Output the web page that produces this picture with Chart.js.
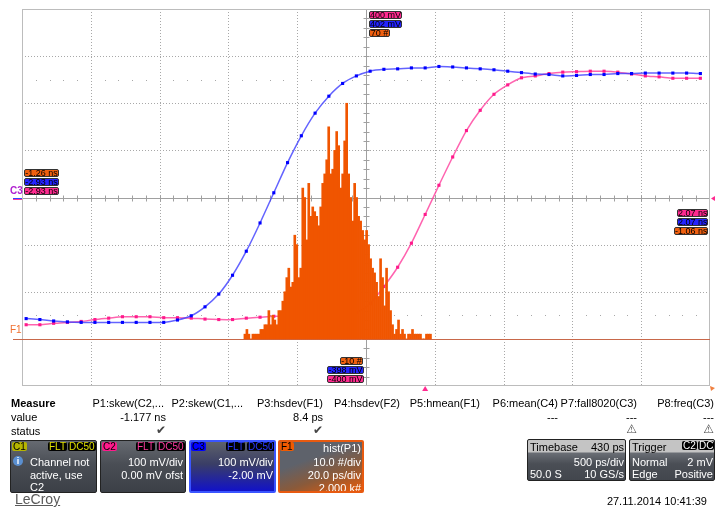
<!DOCTYPE html>
<html>
<head>
<meta charset="utf-8">
<script src="https://cdn.jsdelivr.net/npm/chart.js@4.4.1/dist/chart.umd.min.js"></script>
<style>
body { margin: 0; background: #fff; font-family: "Liberation Sans", Arial, sans-serif; }
#wrap { position: relative; width: 715px; height: 508px; overflow: hidden; }
#scope { position: absolute; left: 0; top: 0; }
.t { position: absolute; font-size: 11px; line-height: 12px; color: #000; white-space: nowrap; }
.r { text-align: right; }
.cur { position: absolute; box-sizing: border-box; height: 8px; font-size: 9px; line-height: 6px; border: 1px solid #333; border-radius: 2px; color: #000; text-align: center; white-space: nowrap; }
.box { position: absolute; box-sizing: border-box; border: 1px solid #222; border-radius: 2px; overflow: hidden;
       background: linear-gradient(#666a71, #4a4e55 45%, #3c4047); color: #fff; }
.box .t { color: #fff; }
.tag { position: absolute; top: 1px; height: 9px; font-size: 10px; line-height: 9px; border-radius: 2px; padding: 0 1px; white-space: nowrap; }
.sym { font-family: "DejaVu Sans", sans-serif; color: #444; }
</style>
</head>
<body>
<div id="wrap">
<canvas id="scope" width="715" height="508"></canvas>

<!-- cursor readouts -->
<div class="cur" style="left:24px;top:169px;width:35px;background:#f06010">-1.26 ns</div>
<div class="cur" style="left:24px;top:178px;width:35px;background:#2323ff">-2.93 ns</div>
<div class="cur" style="left:24px;top:187px;width:35px;background:#ff2a90">-2.93 ns</div>
<div class="cur" style="left:677px;top:209px;width:31px;background:#ff2a90">2.07 ns</div>
<div class="cur" style="left:677px;top:218px;width:31px;background:#2323ff">2.07 ns</div>
<div class="cur" style="left:674px;top:227px;width:34px;background:#f06010">-1.06 ns</div>
<div class="cur" style="left:369px;top:11px;width:33px;background:#ff2a90">400 mV</div>
<div class="cur" style="left:369px;top:20px;width:33px;background:#2323ff">402 mV</div>
<div class="cur" style="left:369px;top:29px;width:21px;background:#f06010">70 #</div>
<div class="cur" style="left:340px;top:357px;width:23px;background:#f06010">-10 #</div>
<div class="cur" style="left:327px;top:366px;width:37px;background:#2323ff">-398 mV</div>
<div class="cur" style="left:327px;top:375px;width:37px;background:#ff2a90">-400 mV</div>

<div class="t" style="left:10px;top:185px;font-size:10px;color:#b020d0;font-weight:bold">C3</div>
<div class="t" style="left:10px;top:324px;font-size:10px;color:#f07030">F1</div>

<!-- measure table -->
<div class="t" style="left:11px;top:397px;font-weight:bold">Measure</div>
<div class="t" style="left:11px;top:411px">value</div>
<div class="t" style="left:11px;top:425px">status</div>
<div class="t r" style="left:86px;width:78px;top:397px">P1:skew(C2,...</div>
<div class="t r" style="left:165px;width:78px;top:397px">P2:skew(C1,...</div>
<div class="t r" style="left:245px;width:78px;top:397px">P3:hsdev(F1)</div>
<div class="t r" style="left:322px;width:78px;top:397px">P4:hsdev(F2)</div>
<div class="t r" style="left:402px;width:78px;top:397px">P5:hmean(F1)</div>
<div class="t r" style="left:480px;width:78px;top:397px">P6:mean(C4)</div>
<div class="t r" style="left:559px;width:78px;top:397px">P7:fall8020(C3)</div>
<div class="t r" style="left:636px;width:78px;top:397px">P8:freq(C3)</div>
<div class="t r" style="left:86px;width:80px;top:411px">-1.177 ns</div>
<div class="t r" style="left:245px;width:78px;top:411px">8.4 ps</div>
<div class="t r" style="left:480px;width:78px;top:411px">---</div>
<div class="t r" style="left:559px;width:78px;top:411px">---</div>
<div class="t r" style="left:636px;width:78px;top:411px">---</div>
<div class="t r sym" style="left:86px;width:80px;top:424px;font-size:12px">&#10004;</div>
<div class="t r sym" style="left:245px;width:78px;top:424px;font-size:12px">&#10004;</div>
<div class="t r sym" style="left:559px;width:78px;top:423px;font-size:12px">&#9888;</div>
<div class="t r sym" style="left:636px;width:78px;top:423px;font-size:12px">&#9888;</div>

<!-- channel boxes -->
<div class="box" style="left:10px;top:440px;width:87px;height:53px">
  <div class="tag" style="left:1px;background:#b5b500;color:#000">C1</div>
  <div class="tag" style="left:37px;background:#000;color:#e0e000">FLT</div>
  <div class="tag" style="left:57px;background:#000;color:#e0e000">DC50</div>
  <div class="t" style="left:2px;top:15px;width:10px;height:10px;border-radius:5px;background:#5a8fd0;font-size:9px;line-height:10px;text-align:center;font-weight:bold">i</div>
  <div class="t" style="left:19px;top:15px">Channel not</div>
  <div class="t" style="left:19px;top:28px">active, use</div>
  <div class="t" style="left:19px;top:40px">C2</div>
</div>
<div class="box" style="left:100px;top:440px;width:86px;height:53px">
  <div class="tag" style="left:1px;background:#ff1a8c;color:#000">C2</div>
  <div class="tag" style="left:35px;background:#000;color:#ff3aa0">FLT</div>
  <div class="tag" style="left:56px;background:#000;color:#ff3aa0">DC50</div>
  <div class="t r" style="right:2px;top:15px">100 mV/div</div>
  <div class="t r" style="right:2px;top:28px">0.00 mV ofst</div>
</div>
<div class="box" style="left:189px;top:440px;width:87px;height:53px;border:2px solid #3a55ff;background:linear-gradient(#5e626b, #3a3e66 45%, #1212c8)">
  <div class="tag" style="left:0px;top:0px;background:#0000ff;color:#000">C3</div>
  <div class="tag" style="left:35px;top:0px;background:#000;color:#2a3aff">FLT</div>
  <div class="tag" style="left:56px;top:0px;background:#000;color:#2a3aff">DC50</div>
  <div class="t r" style="right:1px;top:14px">100 mV/div</div>
  <div class="t r" style="right:1px;top:27px">-2.00 mV</div>
</div>
<div class="box" style="left:278px;top:440px;width:86px;height:53px;border:2px solid #e85a10;background:linear-gradient(160deg, #5e626b 35%, #8a5a3a 65%, #e85a08)">
  <div class="tag" style="left:0px;top:0px;background:#f05a00;color:#000">F1</div>
  <div class="t r" style="right:1px;top:0px">hist(P1)</div>
  <div class="t r" style="right:1px;top:14px">10.0 #/div</div>
  <div class="t r" style="right:1px;top:27px">20.0 ps/div</div>
  <div class="t r" style="right:1px;top:40px">2.000 k#</div>
</div>
<div class="box" style="left:527px;top:439px;width:99px;height:42px;background:linear-gradient(#c4c4c4 0, #c4c4c4 12px, #6a6e75 13px, #4a4e55 60%, #42464d)">
  <div class="t" style="left:2px;top:1px;color:#000">Timebase</div>
  <div class="t r" style="right:1px;top:1px;color:#000">430 ps</div>
  <div class="t r" style="right:1px;top:16px">500 ps/div</div>
  <div class="t" style="left:2px;top:28px">50.0 S</div>
  <div class="t r" style="right:1px;top:28px">10 GS/s</div>
</div>
<div class="box" style="left:629px;top:439px;width:86px;height:42px;background:linear-gradient(#c4c4c4 0, #c4c4c4 12px, #6a6e75 13px, #4a4e55 60%, #42464d)">
  <div class="t" style="left:2px;top:1px;color:#000">Trigger</div>
  <div class="tag" style="left:52px;background:#000;color:#fff">C2</div>
  <div class="tag" style="left:68px;background:#000;color:#fff">DC</div>
  <div class="t" style="left:2px;top:16px">Normal</div>
  <div class="t r" style="right:1px;top:16px">2 mV</div>
  <div class="t" style="left:2px;top:28px">Edge</div>
  <div class="t r" style="right:1px;top:28px">Positive</div>
</div>

<div class="t r" style="left:560px;width:147px;top:495px">27.11.2014 10:41:39</div>
<div class="t" style="left:15px;top:491px;font-size:14px;line-height:16px;color:#5a5a5a;text-decoration:underline">LeCroy</div>
</div>

<script>
// sample grid of the two channels: 10 GS/s, first sample at -2.9 ns
var sampleStartNs = -2.9;
var sampleStepNs  = 0.1;

// C3 (blue) and C2 (pink), mV
var c3Mv = [-257, -259, -262, -264, -265, -265, -265, -265, -265, -265,
            -265, -260, -251, -232, -205, -165, -114, -54, 10, 74,
            131, 179, 215, 242, 258, 268, 272, 273, 275, 275,
            278, 277, 275, 273, 271, 268, 265, 262, 261, 258,
            259, 261, 261, 263, 263, 264, 264, 264, 264, 263];
var c2Mv = [-270, -270, -267, -265, -263, -259, -256, -253, -253, -253,
            -255, -255, -256, -258, -259, -259, -256, -254, -252, -252,
            -253, -253, -253, -251, -244, -225, -189, -148, -97, -36,
            26, 86, 142, 185, 219, 239, 254, 258, 263, 266,
            267, 268, 268, 266, 262, 258, 256, 253, 253, 253];

// F1 = hist(P1), counts per bin, bins in ps
var histStartPs = -1195.2;
var histBinPs   = 0.58;
var histCounts = [1, 2, 1, 0, 1, 1, 1, 1, 2, 2,
                  3, 3, 6, 3, 5, 4, 3, 6, 6, 8,
                  10, 13, 15, 11, 12, 22, 20, 13, 15, 32,
                  30, 21, 33, 26, 28, 27, 26, 24, 28, 33,
                  35, 38, 45, 35, 36, 40, 44, 41, 32, 35,
                  42, 50, 35, 30, 25, 33, 30, 26, 25, 23,
                  21, 23, 20, 17, 15, 14, 12, 9, 17, 13,
                  7, 15, 10, 6, 3, 1, 2, 4, 1, 2,
                  1, 0, 1, 1, 2, 1, 1, 1, 1, 0,
                  0, 1, 1, 1];

// screen ranges (cursor readouts)
var timeMinNs = -2.93, timeMaxNs = 2.07;
var voltMin = -400, voltMax = 400;
var histMinPs = -1260, histMaxPs = -1060;
var countMin = -10, countMax = 70;

function toXY(vals, start, step) {
  var out = [];
  for (var i = 0; i < vals.length; i++) out.push({ x: start + i * step, y: vals[i] });
  return out;
}

// oscilloscope graticule
var graticule = {
  id: 'graticule',
  beforeDatasetsDraw: function(chart) {
    var a = chart.chartArea, c = chart.ctx;
    var dx = (a.right - a.left) / 10, dy = (a.bottom - a.top) / 8;
    var cx = Math.round(a.left + 5 * dx) + 0.5, cy = Math.round(a.top + 4 * dy) + 0.5;
    var i, p;
    c.save();
    c.lineWidth = 1;
    c.strokeStyle = '#a8a8a8';
    c.setLineDash([1, 2]);
    for (i = 1; i < 10; i++) {
      if (i == 5) continue;
      p = Math.round(a.left + i * dx) + 0.5;
      c.beginPath(); c.moveTo(p, a.top); c.lineTo(p, a.bottom); c.stroke();
    }
    for (i = 1; i < 8; i++) {
      if (i == 4) continue;
      p = Math.round(a.top + i * dy) + 0.5;
      c.beginPath(); c.moveTo(a.left, p); c.lineTo(a.right, p); c.stroke();
    }
    c.setLineDash([]);
    // sparse dotted rows at +-2.5 div
    c.fillStyle = '#a8a8a8';
    for (i = 1; i < 50; i++) {
      if (i % 5 == 0) continue;
      p = Math.round(a.left + i * dx / 5);
      c.fillRect(p, Math.round(a.top + 1.5 * dy), 1, 1);
      c.fillRect(p, Math.round(a.top + 6.5 * dy), 1, 1);
    }
    // centre axes with ticks
    c.strokeStyle = '#a0a0a0';
    c.beginPath();
    c.moveTo(a.left, cy); c.lineTo(a.right, cy);
    c.moveTo(cx, a.top); c.lineTo(cx, a.bottom);
    for (i = 1; i < 50; i++) {
      p = Math.round(a.left + i * dx / 5) + 0.5;
      c.moveTo(p, cy - 3); c.lineTo(p, cy + 3);
    }
    for (i = 1; i < 40; i++) {
      p = Math.round(a.top + i * dy / 5) + 0.5;
      c.moveTo(cx - 3, p); c.lineTo(cx + 3, p);
    }
    c.stroke();
    // frame
    c.strokeStyle = '#bcbcbc';
    c.strokeRect(a.left + 0.5, a.top + 0.5, a.right - a.left - 1, a.bottom - a.top - 1);
    // F1 zero level
    var y0 = Math.round(chart.scales.yh.getPixelForValue(0)) + 0.5;
    c.strokeStyle = '#c8684a';
    c.beginPath(); c.moveTo(13, y0); c.lineTo(a.right, y0); c.stroke();
    // C2/C3 ground marker
    var g = Math.round(chart.scales.y.getPixelForValue(0)) + 0.5;
    c.strokeStyle = '#3344ff';
    c.beginPath(); c.moveTo(13, g); c.lineTo(a.left, g); c.stroke();
    c.strokeStyle = '#ff3a9a';
    c.beginPath(); c.moveTo(13, g + 1); c.lineTo(a.left, g + 1); c.stroke();
    // right level marker and trigger marker
    c.fillStyle = '#ff2a90';
    c.beginPath(); c.moveTo(a.right + 1, g); c.lineTo(a.right + 6, g - 3); c.lineTo(a.right + 6, g + 3); c.fill();
    var tx = chart.scales.x.getPixelForValue(0);
    c.beginPath(); c.moveTo(tx, a.bottom); c.lineTo(tx - 3, a.bottom + 5); c.lineTo(tx + 3, a.bottom + 5); c.fill();
    c.fillStyle = '#f08040';
    c.beginPath(); c.moveTo(a.right, a.bottom); c.lineTo(a.right + 5, a.bottom + 2); c.lineTo(a.right + 1, a.bottom + 5); c.fill();
    c.restore();
  }
};

var ctx = document.getElementById('scope');
new Chart(ctx, {
  type: 'line',
  data: {
    datasets: [
      { type: 'line', label: 'C2', data: toXY(c2Mv, sampleStartNs, sampleStepNs),
        xAxisID: 'x', yAxisID: 'y', order: 3,
        borderColor: 'rgba(255,60,155,0.8)', borderWidth: 1.5, tension: 0.25,
        pointStyle: 'rect', pointRadius: 2.2, pointBorderWidth: 0, pointBackgroundColor: '#ff1a8c' },
      { type: 'bar', label: 'F1', data: toXY(histCounts, histStartPs, histBinPs),
        xAxisID: 'xh', yAxisID: 'yh', order: 2, grouped: false,
        backgroundColor: '#f05500', borderWidth: 0, barPercentage: 1, categoryPercentage: 1 },
      { type: 'line', label: 'C3', data: toXY(c3Mv, sampleStartNs, sampleStepNs),
        xAxisID: 'x', yAxisID: 'y', order: 1,
        borderColor: 'rgba(60,60,255,0.8)', borderWidth: 1.5, tension: 0.25,
        pointStyle: 'rect', pointRadius: 2.2, pointBorderWidth: 0, pointBackgroundColor: '#0000ff' }
    ]
  },
  options: {
    responsive: false, animation: false,
    layout: { padding: { left: 22, top: 9, right: 5, bottom: 122 } },
    plugins: { legend: { display: false }, tooltip: { enabled: false } },
    scales: {
      x:  { type: 'linear', min: timeMinNs, max: timeMaxNs, display: false },
      y:  { type: 'linear', min: voltMin, max: voltMax, display: false },
      xh: { type: 'linear', min: histMinPs, max: histMaxPs, display: false, offset: false },
      yh: { type: 'linear', min: countMin, max: countMax, display: false }
    }
  },
  plugins: [graticule]
});
</script>
</body>
</html>
